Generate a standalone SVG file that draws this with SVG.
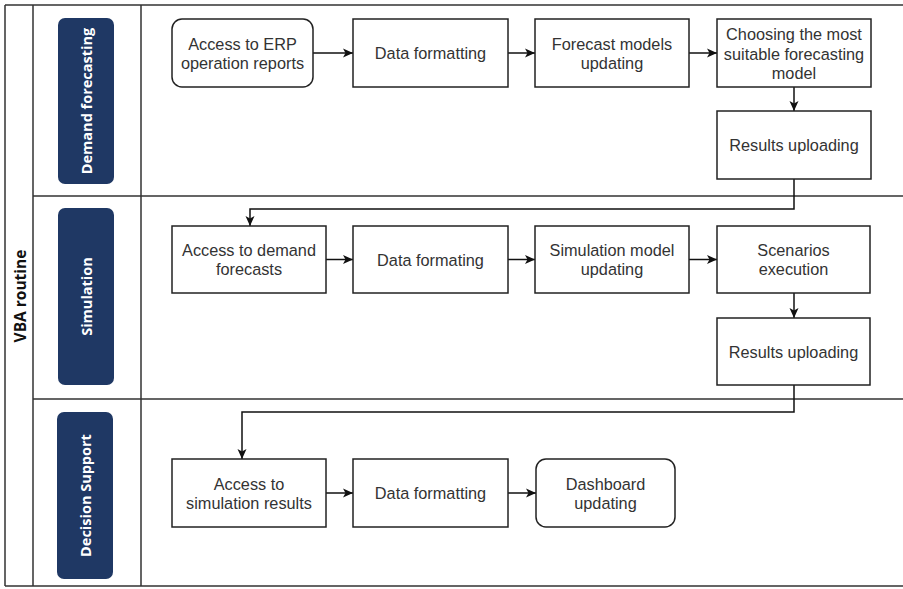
<svg xmlns="http://www.w3.org/2000/svg" width="903" height="589" viewBox="0 0 903 589">
<style>
.lane{fill:none;stroke:#333;stroke-width:1.5}
.pill{fill:#1f3864}
.pt{fill:#fff;font-family:"Open Sans","DejaVu Sans",sans-serif;font-weight:bold;font-size:14.5px;text-anchor:middle;dominant-baseline:central}
.vba{fill:#111;font-family:"Open Sans","DejaVu Sans",sans-serif;font-weight:bold;font-size:15.5px;text-anchor:middle;dominant-baseline:central}
.box{fill:#fff;stroke:#222;stroke-width:1.5}
.t{fill:#333;font-family:"Liberation Sans",Arial,sans-serif;font-size:16.3px;text-anchor:middle;dominant-baseline:central}
.c{fill:none;stroke:#111;stroke-width:1.5}
</style>
<defs>
<marker id="ah" viewBox="0 0 10 10" refX="10" refY="5" markerWidth="10" markerHeight="10" markerUnits="userSpaceOnUse" orient="auto">
<path d="M0,0.5 L10,5 L0,9.5 L2.5,5 Z" fill="#111"/>
</marker>
</defs>
<rect width="903" height="589" fill="#fff"/>
<g id="lanes">
<path class="lane" d="M5,5 H903 M5,586 H903 M5,5 V586 M33,5 V586 M141,5 V586 M33,196 H903 M33,399 H903"/>
<text class="vba" transform="rotate(-90 20 296)" x="20" y="296">VBA routine</text>
</g>
<g id="lane-demand">
<rect class="pill" x="58" y="18" width="56" height="166" rx="7"/>
<text class="pt" transform="rotate(-90 86 101)" x="86" y="101">Demand forecasting</text>
</g>
<g id="lane-simulation">
<rect class="pill" x="58" y="208" width="56" height="177" rx="7"/>
<text class="pt" transform="rotate(-90 86 296.5)" x="86" y="296.5">Simulation</text>
</g>
<g id="lane-decision">
<rect class="pill" x="57" y="412" width="56" height="167" rx="7"/>
<text class="pt" transform="rotate(-90 85 495.5)" x="85" y="495.5">Decision Support</text>
</g>
<g id="connectors">
<path class="c" marker-end="url(#ah)" d="M313,53 H353"/>
<path class="c" marker-end="url(#ah)" d="M508,53 H535"/>
<path class="c" marker-end="url(#ah)" d="M689,53 H717"/>
<path class="c" marker-end="url(#ah)" d="M794,87 V111"/>
<path class="c" marker-end="url(#ah)" d="M794,179 V209 H250 V226"/>
<path class="c" marker-end="url(#ah)" d="M326,259.5 H353"/>
<path class="c" marker-end="url(#ah)" d="M508,259.5 H535"/>
<path class="c" marker-end="url(#ah)" d="M689,259.5 H717"/>
<path class="c" marker-end="url(#ah)" d="M794,293 V318"/>
<path class="c" marker-end="url(#ah)" d="M794,385 V412 H242 V459"/>
<path class="c" marker-end="url(#ah)" d="M326,493 H353"/>
<path class="c" marker-end="url(#ah)" d="M508,493 H536"/>
</g>
<g id="n1">
<rect class="box" x="172" y="19" width="141" height="68" rx="10"/>
<text class="t" x="242.5" y="43.5">Access to ERP</text>
<text class="t" x="242.5" y="62.5">operation reports</text>
</g>
<g id="n2">
<rect class="box" x="353" y="19" width="155" height="68"/>
<text class="t" x="430.5" y="53">Data formatting</text>
</g>
<g id="n3">
<rect class="box" x="535" y="19" width="154" height="68"/>
<text class="t" x="612" y="43.5">Forecast models</text>
<text class="t" x="612" y="62.5">updating</text>
</g>
<g id="n4">
<rect class="box" x="717" y="19" width="154" height="68"/>
<text class="t" x="794" y="34">Choosing the most</text>
<text class="t" x="794" y="53.5">suitable forecasting</text>
<text class="t" x="794" y="73">model</text>
</g>
<g id="n5">
<rect class="box" x="717" y="111" width="154" height="68"/>
<text class="t" x="794" y="145">Results uploading</text>
</g>
<g id="n6">
<rect class="box" x="172" y="226" width="154" height="67"/>
<text class="t" x="249" y="250">Access to demand</text>
<text class="t" x="249" y="269">forecasts</text>
</g>
<g id="n7">
<rect class="box" x="353" y="226" width="155" height="67"/>
<text class="t" x="430.5" y="259.5">Data formating</text>
</g>
<g id="n8">
<rect class="box" x="535" y="226" width="154" height="67"/>
<text class="t" x="612" y="250">Simulation model</text>
<text class="t" x="612" y="269">updating</text>
</g>
<g id="n9">
<rect class="box" x="717" y="226" width="153" height="67"/>
<text class="t" x="793.5" y="250">Scenarios</text>
<text class="t" x="793.5" y="269">execution</text>
</g>
<g id="n10">
<rect class="box" x="717" y="318" width="153" height="67"/>
<text class="t" x="793.5" y="352">Results uploading</text>
</g>
<g id="n11">
<rect class="box" x="172" y="459" width="154" height="68"/>
<text class="t" x="249" y="483.5">Access to</text>
<text class="t" x="249" y="502.5">simulation results</text>
</g>
<g id="n12">
<rect class="box" x="353" y="459" width="155" height="68"/>
<text class="t" x="430.5" y="493">Data formatting</text>
</g>
<g id="n13">
<rect class="box" x="536" y="459" width="139" height="68" rx="10"/>
<text class="t" x="605.5" y="483.5">Dashboard</text>
<text class="t" x="605.5" y="502.5">updating</text>
</g>
</svg>
